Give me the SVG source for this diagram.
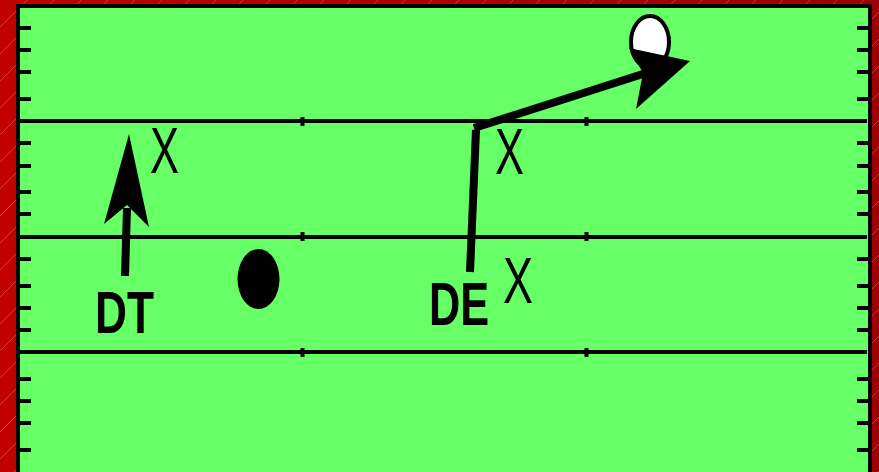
<svg xmlns="http://www.w3.org/2000/svg" width="879" height="472" viewBox="0 0 879 472">
<defs>
<linearGradient id="bg" x1="0" y1="0" x2="1" y2="0">
<stop offset="0" stop-color="#c20000"/>
<stop offset="1" stop-color="#9c0000"/>
</linearGradient>
<pattern id="hatch" width="27" height="27" patternUnits="userSpaceOnUse">
<line x1="0" y1="27" x2="27" y2="0" stroke="#ff9999" stroke-opacity="0.45" stroke-width="0.8"/>
</pattern>
<style>
.yl{stroke:#000;stroke-width:4}
.tk{stroke:#000;stroke-width:4}
.hm{stroke:#000;stroke-width:4}
.lbl{font-family:"Liberation Sans",Arial,sans-serif;font-weight:bold;fill:#000}
.x{font-family:"Liberation Sans",Arial,sans-serif;font-weight:normal;fill:#000}
.shaft{stroke:#000;stroke-width:8;fill:none}
</style>
</defs>
<rect x="0" y="0" width="879" height="472" fill="url(#bg)"/>
<rect x="0" y="0" width="879" height="472" fill="url(#hatch)"/>
<rect x="18" y="6" width="852" height="490" fill="#66ff66" stroke="#000" stroke-width="4"/>
<g id="yardlines">
<line class="yl" x1="20" y1="121" x2="867" y2="121"/>
<line class="yl" x1="20" y1="237" x2="867" y2="237"/>
<line class="yl" x1="20" y1="352" x2="867" y2="352"/>
<line class="hm" x1="302.5" y1="117" x2="302.5" y2="126"/>
<line class="hm" x1="586.5" y1="117" x2="586.5" y2="126"/>
<line class="hm" x1="302.5" y1="232" x2="302.5" y2="241"/>
<line class="hm" x1="586.5" y1="232" x2="586.5" y2="241"/>
<line class="hm" x1="302.5" y1="348" x2="302.5" y2="357"/>
<line class="hm" x1="586.5" y1="348" x2="586.5" y2="357"/>
</g>
<g id="ticks">
<path class="tk" d="M20 28H31M20 50H31M20 72H31M20 99H31M20 143H31M20 166H31M20 192H31M20 214H31M20 259H31M20 286H31M20 308H31M20 330H31M20 379H31M20 401H31M20 423H31M20 450H31"/>
<path class="tk" d="M857 28H868M857 50H868M857 72H868M857 99H868M857 143H868M857 166H868M857 192H868M857 214H868M857 259H868M857 286H868M857 308H868M857 330H868M857 379H868M857 401H868M857 423H868M857 450H868"/>
</g>
<g id="ball">
<ellipse cx="258.5" cy="279" rx="21" ry="30" fill="#000"/>
</g>
<g id="target">
<ellipse cx="650" cy="42" rx="19" ry="26" fill="#fff" stroke="#000" stroke-width="4"/>
</g>
<g id="connectors">
<line class="shaft" x1="125" y1="276" x2="127" y2="208"/>
<polygon points="129,134 149,227 127,205 104,224" fill="#000"/>
<line class="shaft" x1="470" y1="272" x2="476" y2="130"/>
<line class="shaft" x1="474" y1="128" x2="646" y2="73"/>
<polygon points="690,61 636,109 643,73 629,48" fill="#000"/>
</g>
<g id="DT" transform="translate(95,333) scale(0.7375,1)"><text class="lbl" x="0" y="0" font-size="60">DT</text></g>
<g id="DE" transform="translate(429,325) scale(0.698,1)"><text class="lbl" x="0" y="0" font-size="62">DE</text></g>
<g id="X1" transform="translate(150,173) scale(0.68,1)"><text class="x" x="0" y="0" font-size="64">X</text></g>
<g id="X2" transform="translate(495,174) scale(0.668,1)"><text class="x" x="0" y="0" font-size="65">X</text></g>
<g id="X3" transform="translate(503,303) scale(0.703,1)"><text class="x" x="0" y="0" font-size="64">X</text></g>
</svg>
